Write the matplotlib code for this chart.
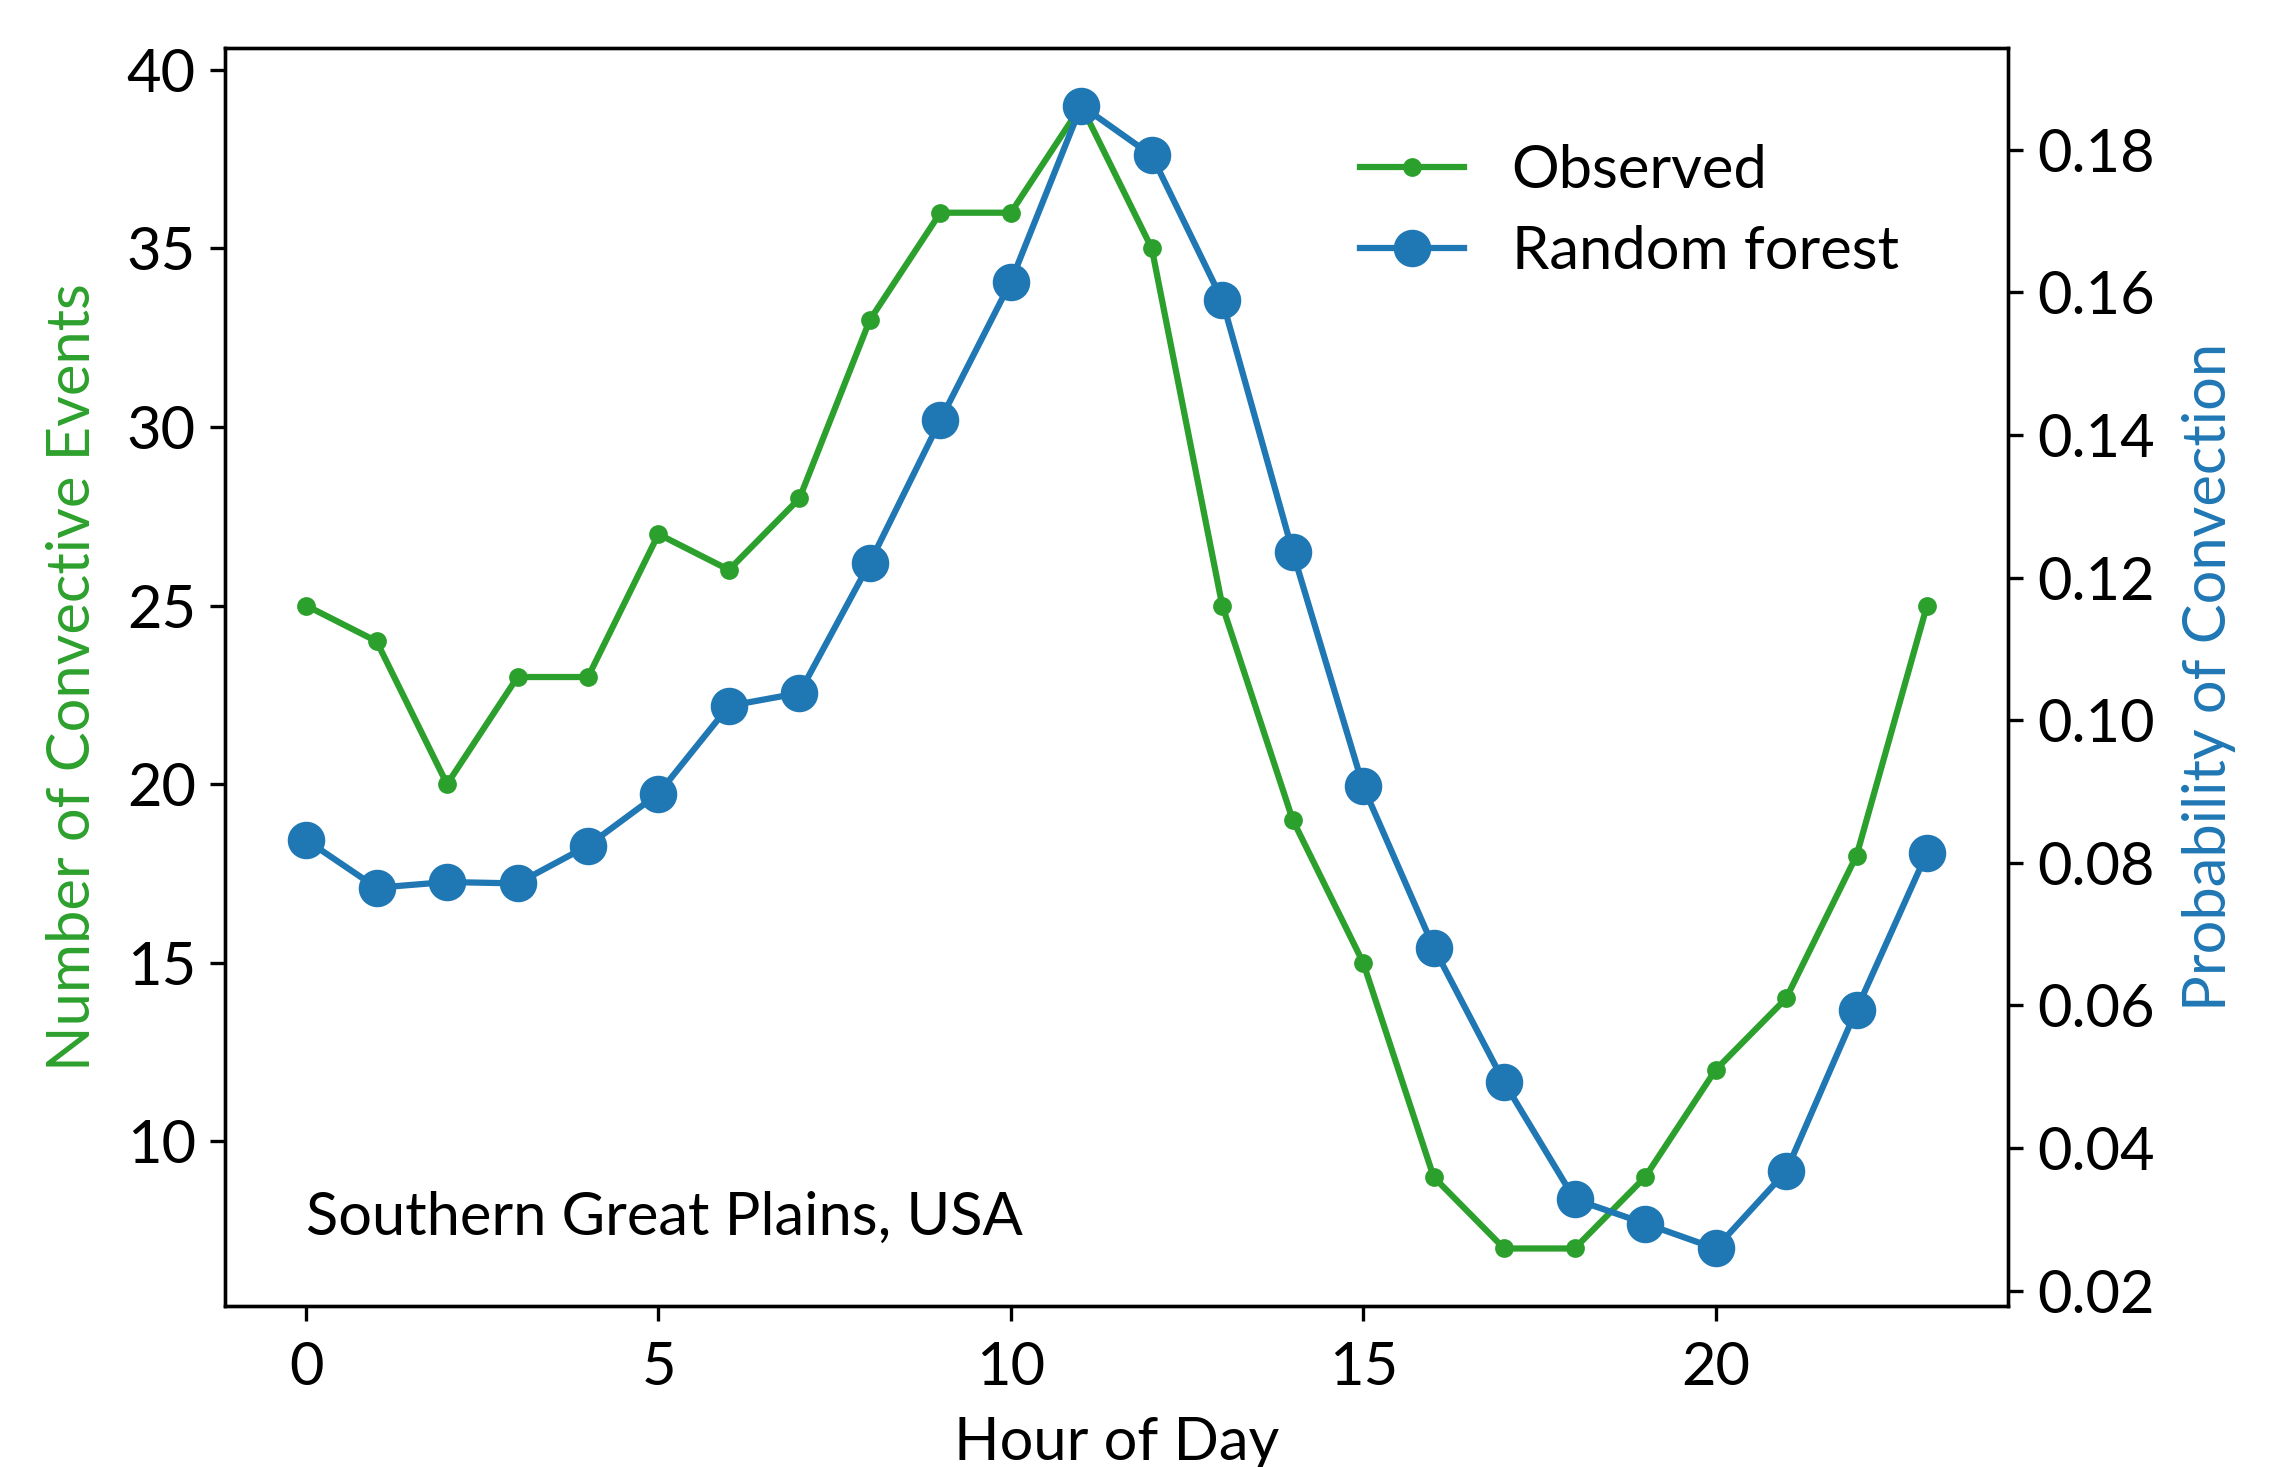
import matplotlib
matplotlib.use("Agg")
import matplotlib.pyplot as plt

plt.rcParams['font.family'] = ['Lato', 'DejaVu Sans']
plt.rcParams['font.size'] = 14.3

hours = list(range(24))
observed = [25, 24, 20, 23, 23, 27, 26, 28, 33, 36, 36, 39, 35, 25, 19, 15, 9, 7, 7, 9, 12, 14, 18, 25]
random_forest = [0.0832, 0.0765, 0.0773, 0.0771, 0.0824, 0.0897, 0.1020, 0.1038, 0.1221, 0.1421,
                 0.1615, 0.1862, 0.1792, 0.1589, 0.1236, 0.0907, 0.0681, 0.0492, 0.0328, 0.0294,
                 0.0259, 0.0367, 0.0594, 0.0814]
x_ticks = [0, 5, 10, 15, 20]
left_ticks = [10, 15, 20, 25, 30, 35, 40]
right_ticks = [0.02, 0.04, 0.06, 0.08, 0.10, 0.12, 0.14, 0.16, 0.18]

green = '#2ca02c'
blue = '#1f77b4'

fig = plt.figure(figsize=(2278/300, 1467/300), dpi=300)
ax = fig.add_axes([0.0988, 0.110, 0.7827, 0.857])
ax2 = ax.twinx()

l1, = ax.plot(hours, observed, color=green, marker='.', markersize=7, linewidth=1.5, label='Observed')
l2, = ax2.plot(hours, random_forest, color=blue, marker='o', markersize=8, linewidth=1.5, label='Random forest')

ax.set_xticks(x_ticks)
ax.set_yticks(left_ticks)
ax2.set_yticks(right_ticks)
ax2.set_yticklabels([f"{v:.2f}" for v in right_ticks])
ax.tick_params(axis='x', pad=5)

ax.set_xlabel('Hour of Day', labelpad=5)
ax.set_ylabel('Number of Convective Events', color=green, labelpad=6.5)
ax2.set_ylabel('Probability of Convection', color=blue, labelpad=6.5)

ax.text(0, 7.85, 'Southern Great Plains, USA', va='center', ha='left')

ax2.legend(handles=[l1, l2], loc='upper left', frameon=False, handlelength=1.75,
           labelspacing=0.45, borderaxespad=0, bbox_to_anchor=(0.623, 0.943))

fig.savefig('out.png', dpi=300)
